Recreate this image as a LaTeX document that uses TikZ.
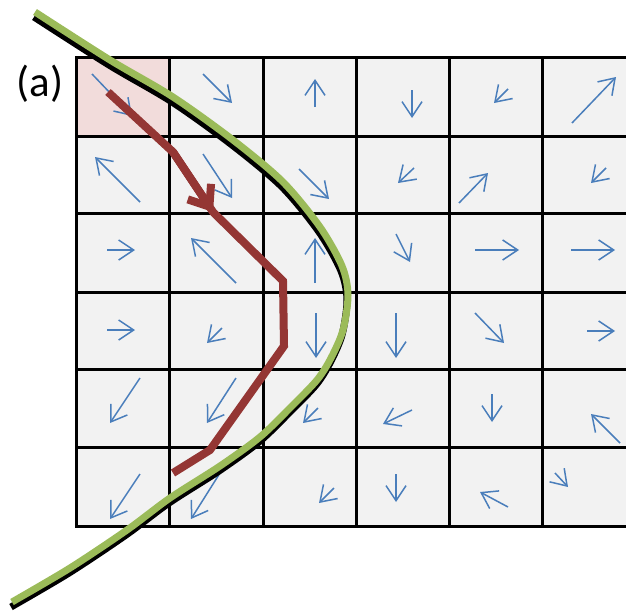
\documentclass[tikz,border=0pt]{standalone}
\usepackage{fontspec}
\setmainfont{Carlito}
\usepackage{xcolor}
\definecolor{cCell}{HTML}{F2F2F2}
\definecolor{cStart}{HTML}{F2DCDB}
\definecolor{cField}{HTML}{4A7EBB}
\definecolor{cPath}{HTML}{943634}
\definecolor{cFront}{HTML}{9BBB59}
\usepackage{tikz}
\usetikzlibrary{arrows.meta}
\tikzset{
  grid-line/.style={draw=black,line width=3pt,line cap=rect},
  field-arrow/.style={-{Straight Barb[length=15pt,width=20pt]},line width=1.5pt,draw=cField},
  path-line/.style={line width=8pt,draw=cPath},
  path-tip/.style={-{Straight Barb[length=18pt,width=28pt]},line width=8pt,draw=cPath},
  front-shadow/.style={line width=7pt,draw=black},
  front-line/.style={line width=7pt,draw=cFront},
}
\newcommand{\frontpts}{(35,12) (110,60) (173,97) (233,140) (283,182) (320,227)
  (342,266) (348,295) (343,330) (331,358) (317,380) (290,408) (260,437)
  (220,466) (170,498) (127,530) (70,568) (12,602)}

\begin{document}
\begin{tikzpicture}[x=1pt,y=-1pt]
  \useasboundingbox (0,0) rectangle (626,610);
  \clip (0,0) rectangle (626,610);
  % cells
  \fill[cCell]  (76,58) rectangle (640,526);
  \fill[cStart] (76,58) rectangle (169,136);
  \foreach \x in {76,169,263,356,449,542}
    \draw[grid-line] (\x,58) -- (\x,526);
  \foreach \y in {58,136,213,292,369,447,526}
    \draw[grid-line] (76,\y) -- (640,\y);
  % field
  \foreach \a/\b/\c/\d in {92/74/132/116, 203/74/232/103, 315/107/315/79,
      412/90/412/118, 508/89/494/103, 572/123/616/77,
      140/202/95/157, 203/154/232/198, 299/169/329/199,
      414/168/398/183, 459/203/488/173, 606/168/591/183,
      107/250/135/250, 236/283/191/238, 315/283/315/238,
      396/234/410/262, 475/250/519/250, 571/250/615/250,
      107/330/135/330, 222/328/207/343, 316/313/316/358,
      396/313/396/358, 475/313/504/343, 587/331/615/331,
      140/378/110/423, 236/378/207/423, 318/408/303/423,
      412/410/383/424, 492/394/492/422, 620/443/591/414,
      140/474/110/519, 220/473/191/519, 334/488/319/503,
      396/474/396/502, 508/507/480/492, 555/473/568/487}
    \draw[field-arrow] (\a,\b) -- (\c,\d);
  % front
  \draw[front-shadow,shift={(-1,5)}] plot[smooth] coordinates {\frontpts};
  \draw[front-line] plot[smooth] coordinates {\frontpts};
  % path
  \coordinate (p0) at (108,92);
  \coordinate (p1) at (173,152);
  \coordinate (p2) at (213,212);
  \coordinate (p3) at (283,281);
  \coordinate (p4) at (284,346);
  \coordinate (p5) at (210,450);
  \coordinate (p6) at (173,473);
  \draw[path-line] (p0) -- (p1) -- (p2) -- (p3) -- (p4) -- (p5) -- (p6);
  \draw[path-tip] (p1) -- (p2);
  \node[font=\fontsize{43}{50}\selectfont,inner sep=0pt] (lbl) at (40,84) {(a)};
\end{tikzpicture}
\end{document}
